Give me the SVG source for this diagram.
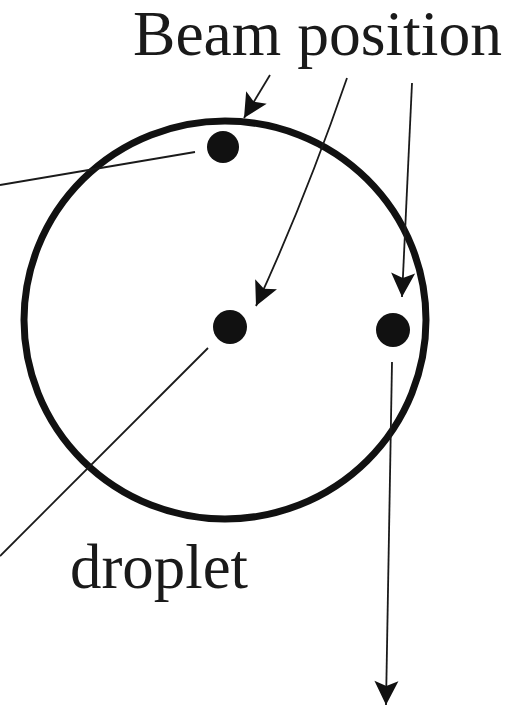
<svg xmlns="http://www.w3.org/2000/svg" width="510" height="707" viewBox="0 0 510 707">
<defs>
<style>
.lbl{font-family:"Liberation Serif","Times New Roman",serif;font-size:63px;fill:#1a1a1a}
.ln{stroke:#1a1a1a;stroke-width:1.8;fill:none}
.dot{fill:#111}
</style>
<marker id="ah" markerUnits="userSpaceOnUse" markerWidth="30" markerHeight="30" viewBox="-26 -14 30 28" refX="0" refY="0" orient="auto">
<path d="M0,0 L-24,-12 L-19,0 L-24,12 Z" fill="#111"/>
</marker>
</defs>
<rect width="510" height="707" fill="#fff"/>
<g id="circle">
<ellipse cx="225" cy="320" rx="201" ry="199" fill="none" stroke="#111" stroke-width="7"/>
</g>
<g id="dot-top"><circle class="dot" cx="223" cy="147" r="16"/></g>
<g id="dot-center"><circle class="dot" cx="230" cy="327" r="17"/></g>
<g id="dot-right"><circle class="dot" cx="393" cy="330" r="17"/></g>
<g id="label-beam"><text class="lbl" x="133" y="55" textLength="369" lengthAdjust="spacingAndGlyphs">Beam position</text></g>
<g id="label-droplet"><text class="lbl" x="70" y="588" textLength="178" lengthAdjust="spacingAndGlyphs">droplet</text></g>
<g id="connectors">
<line class="ln" x1="195" y1="152" x2="0" y2="185"/>
<line class="ln" x1="208" y1="348" x2="0" y2="556"/>
<line class="ln" x1="270" y1="75" x2="244" y2="118" marker-end="url(#ah)"/>
<path class="ln" d="M347,78 Q305,200 256,306" marker-end="url(#ah)"/>
<line class="ln" x1="412" y1="83" x2="402" y2="297" marker-end="url(#ah)"/>
<line class="ln" x1="392" y1="362" x2="386" y2="705" marker-end="url(#ah)"/>
</g>
</svg>
